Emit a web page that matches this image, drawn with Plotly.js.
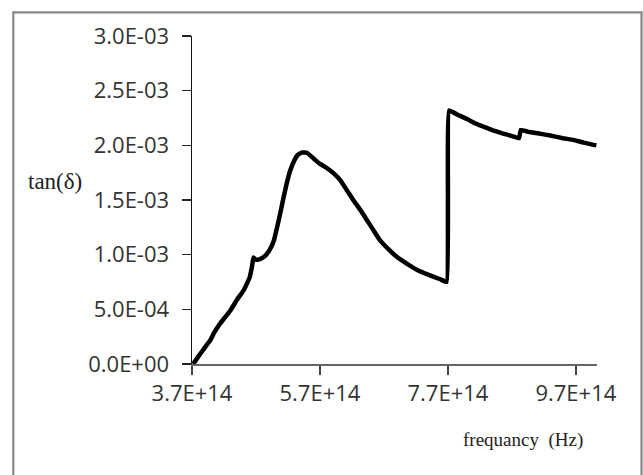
<!DOCTYPE html>
<html>
<head>
<meta charset="utf-8">
<script src="https://cdn.plot.ly/plotly-3.0.1.min.js"></script>
<style>
html,body{margin:0;padding:0;background:#fff;}
#chart{width:643px;height:475px;}
</style>
</head>
<body>
<div id="chart"></div>
<script>
// frequency (Hz)
var freq = [3.72e14,3.80e14,3.90e14,3.99e14,4.04e14,4.14e14,4.22e14,4.30e14,4.40e14,4.51e14,4.56e14,4.60e14,4.64e14,4.66e14,4.69e14,4.74e14,4.80e14,4.86e14,4.92e14,4.98e14,5.03e14,5.08e14,5.13e14,5.18e14,5.23e14,5.29e14,5.35e14,5.42e14,5.50e14,5.60e14,5.70e14,5.76e14,5.86e14,5.94e14,6.02e14,6.12e14,6.22e14,6.33e14,6.43e14,6.54e14,6.64e14,6.77e14,6.90e14,7.05e14,7.22e14,7.40e14,7.58e14,7.68e14,7.70e14,7.72e14,7.85e14,8.00e14,8.13e14,8.26e14,8.39e14,8.55e14,8.70e14,8.81e14,8.84e14,8.95e14,9.10e14,9.30e14,9.50e14,9.66e14,9.82e14,1.002e15];
// tan(delta)
var tanDelta = [0.000e-3,0.07e-3,0.15e-3,0.22e-3,0.28e-3,0.37e-3,0.43e-3,0.49e-3,0.585e-3,0.676e-3,0.737e-3,0.79e-3,0.90e-3,0.975e-3,0.955e-3,0.955e-3,0.97e-3,1.00e-3,1.05e-3,1.13e-3,1.25e-3,1.38e-3,1.52e-3,1.65e-3,1.76e-3,1.85e-3,1.91e-3,1.935e-3,1.93e-3,1.88e-3,1.83e-3,1.81e-3,1.77e-3,1.73e-3,1.68e-3,1.59e-3,1.50e-3,1.41e-3,1.32e-3,1.22e-3,1.13e-3,1.05e-3,0.98e-3,0.92e-3,0.86e-3,0.815e-3,0.775e-3,0.75e-3,1.50e-3,2.32e-3,2.28e-3,2.24e-3,2.20e-3,2.17e-3,2.14e-3,2.11e-3,2.085e-3,2.065e-3,2.14e-3,2.125e-3,2.11e-3,2.09e-3,2.065e-3,2.05e-3,2.025e-3,2.00e-3];

var xTickVals = [3.7e14,5.7e14,7.7e14,9.7e14];
var xTickText = ["3.7E+14","5.7E+14","7.7E+14","9.7E+14"];
var yTickVals = [0,0.5e-3,1.0e-3,1.5e-3,2.0e-3,2.5e-3,3.0e-3];
var yTickText = ["0.0E+00","5.0E-04","1.0E-03","1.5E-03","2.0E-03","2.5E-03","3.0E-03"];

var trace = {
  x: freq, y: tanDelta, type: 'scatter', mode: 'lines',
  line: {color: '#000000', width: 4.5, shape: 'spline', smoothing: 0.3},
  hoverinfo: 'skip'
};

var layout = {
  width: 643, height: 475,
  margin: {l: 192, r: 46, t: 36, b: 111, pad: 0},
  paper_bgcolor: '#ffffff', plot_bgcolor: '#ffffff',
  showlegend: false,
  font: {family: 'Open Sans, sans-serif', size: 22, color: '#333333'},
  xaxis: {
    range: [3.7e14, 1.003e15], autorange: false,
    tickmode: 'array', tickvals: xTickVals, ticktext: xTickText,
    showgrid: false, zeroline: false,
    showline: true, linecolor: '#666666', linewidth: 1.5,
    ticks: 'outside', ticklen: 9, tickwidth: 1.5, tickcolor: '#444444',
    ticklabelstandoff: 0,
    tickfont: {family: 'Open Sans, sans-serif', size: 22, color: '#333333'}
  },
  yaxis: {
    range: [0, 3.0e-3], autorange: false,
    tickmode: 'array', tickvals: yTickVals, ticktext: yTickText,
    showgrid: false, zeroline: false,
    showline: true, linecolor: '#111111', linewidth: 1.5,
    ticks: 'outside', ticklen: 9, tickwidth: 1.5, tickcolor: '#222222',
    ticklabelstandoff: 8,
    tickfont: {family: 'Open Sans, sans-serif', size: 22, color: '#333333'}
  },
  shapes: [{
    type: 'rect', xref: 'paper', yref: 'paper', layer: 'below',
    x0: -0.4412, x1: 1.1099, y0: -0.36, y1: 1.0723,
    line: {color: '#888888', width: 2.2}, fillcolor: 'rgba(0,0,0,0)'
  }],
  annotations: [
    {text: 'tan(δ)', xref: 'paper', yref: 'paper', x: -0.3395, y: 0.555,
     xanchor: 'center', yanchor: 'middle', showarrow: false,
     font: {family: 'Liberation Serif, serif', size: 23, color: '#222222'}},
    {text: 'frequancy&nbsp;&nbsp;(Hz)', xref: 'paper', yref: 'paper', x: 0.817, y: -0.2317,
     xanchor: 'center', yanchor: 'middle', showarrow: false,
     font: {family: 'Liberation Serif, serif', size: 19, color: '#222222'}}
  ]
};

Plotly.newPlot('chart', [trace], layout, {staticPlot: true, displayModeBar: false});
</script>
</body>
</html>
